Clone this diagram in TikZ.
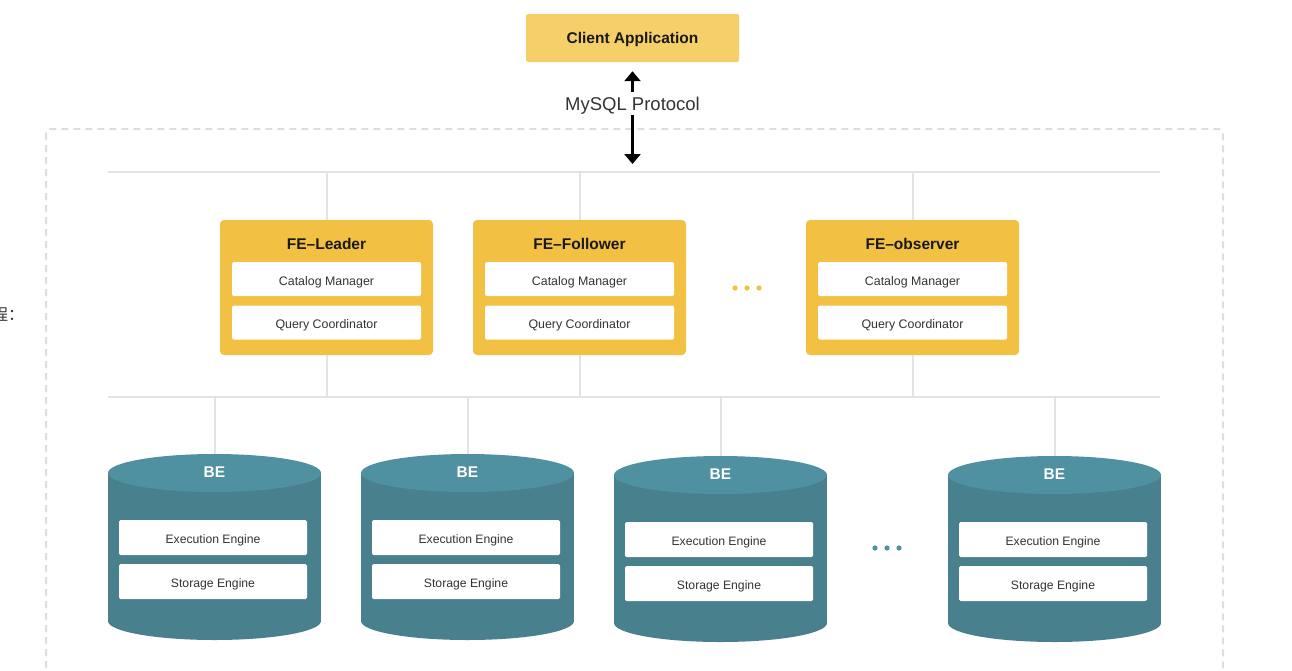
\documentclass[tikz,border=0pt]{standalone}
\usepackage{fontspec}
\setmainfont{Liberation Sans}
\newfontfamily\cjkfont{Noto Sans CJK SC}
\usetikzlibrary{arrows.meta}
\definecolor{clientY}{HTML}{F5CF67}
\definecolor{feY}{HTML}{F2C043}
\definecolor{beTop}{HTML}{4F90A1}
\definecolor{beBody}{HTML}{49808D}
\definecolor{lineG}{HTML}{E3E3E3}
\definecolor{frameG}{HTML}{DEDEDE}
\definecolor{txt}{HTML}{333333}
\begin{document}
\begin{tikzpicture}[x=1pt,y=-1pt,
  client/.style={fill=clientY, rounded corners=1.5pt, minimum width=213pt, minimum height=48pt, inner sep=0pt, font=\bfseries\fontsize{15.5}{16}\selectfont, text=black!90, text height=11.2pt, text depth=0pt},
  fe/.style={fill=feY, rounded corners=4pt, minimum width=213pt, minimum height=135pt, inner sep=0pt},
  inner/.style={fill=white, rounded corners=1.5pt, minimum width=189pt, minimum height=34pt, inner sep=0pt, font=\fontsize{12.4}{13}\selectfont, text=txt, text height=12.4pt, text depth=0pt},
  fetitle/.style={font=\bfseries\fontsize{15.5}{16}\selectfont, text=black!90, inner sep=0pt, text height=11.1pt, text depth=0pt},
  betitle/.style={font=\bfseries\fontsize{15.5}{16}\selectfont, text=white, inner sep=0pt, text height=11.1pt, text depth=0pt},
  bus/.style={draw=lineG, line width=2pt},
  arr/.style={draw=black, line width=2.6pt, -{Triangle[length=10pt,width=16pt]}},
  frame/.style={draw=frameG, line width=2pt, dash pattern=on 7pt off 5pt, rounded corners=4pt}
]
\clip (0,0) rectangle (1292,670);
\useasboundingbox (0,0) rectangle (1292,670);

% outer dashed frame
\draw[frame] (46,129) rectangle (1223,720);

% left cut-off text
\node[anchor=west, font=\cjkfont\fontsize{16}{16}\selectfont, text=txt, inner sep=0pt] (cjk) at (-8,315) {程：};

% client
\node[client] (client) at (632.5,38) {Client Application};
\node[font=\fontsize{18.5}{19}\selectfont, text=txt, text height=13.2pt, text depth=0pt, inner sep=0pt, minimum height=19pt] (proto) at (632.5,104) {MySQL Protocol};

% buses
\coordinate (busTL) at (108,172);
\coordinate (busTR) at (1160,172);
\coordinate (busML) at (108,397);
\coordinate (busMR) at (1160,397);
\draw[bus] (busTL) -- (busTR);
\draw[bus] (busML) -- (busMR);
\coordinate (busProto) at (632.5,172);

\draw[arr, shorten <=2pt, shorten >=9pt] (proto.north) -- (proto.north |- client.south);
\draw[arr, shorten <=1.5pt, shorten >=8pt] (proto.south) -- (busProto);

% FE nodes
\foreach \n/\cx/\t in {lead/326.5/FE–Leader, foll/579.5/FE–Follower, obs/912.5/FE–observer}{
  \node[fe] (\n) at (\cx,287.5) {};
  \node[fetitle] (\n-t) at (\cx,243.5) {\t};
  \node[inner] (\n-cat) at (\cx,279) {Catalog Manager};
  \node[inner] (\n-qc) at (\cx,322.5) {Query Coordinator};
  \coordinate (\n-top) at (\cx,172);
  \coordinate (\n-bot) at (\cx,397);
  \draw[bus] (\n-top) -- (\n.north);
  \draw[bus] (\n.south) -- (\n-bot);
}
\foreach \x in {735,747,759}{\fill[feY] (\x,288) circle (2.6pt);}

% BE nodes
\foreach \n/\cx/\dy in {b1/214.5/0, b2/467.5/0, b3/720.5/2, b4/1054.5/2}{
  \fill[beBody] (\cx-106.5,473+\dy) rectangle (\cx+106.5,621+\dy);
  \fill[beBody] (\cx,621+\dy) ellipse [x radius=106.5pt, y radius=19pt];
  \fill[beTop] (\cx,473+\dy) ellipse [x radius=106.5pt, y radius=19pt];
  \coordinate (\n-top) at (\cx,454+\dy);
  \coordinate (\n-bus) at (\cx,397);
  \draw[bus] (\n-bus) -- (\n-top);
  \node[betitle] (\n-t) at (\cx,472+\dy) {BE};
  \node[inner, minimum width=188pt, minimum height=35pt, font=\fontsize{12.2}{13}\selectfont, text height=11.8pt] (\n-ex) at (\cx-1.5,537.5+\dy) {Execution Engine};
  \node[inner, minimum width=188pt, minimum height=35pt, font=\fontsize{12.2}{13}\selectfont, text height=11.8pt] (\n-st) at (\cx-1.5,581.5+\dy) {Storage Engine};
}
\foreach \x in {875,887,899}{\fill[beTop] (\x,548) circle (2.6pt);}
\end{tikzpicture}
\end{document}
